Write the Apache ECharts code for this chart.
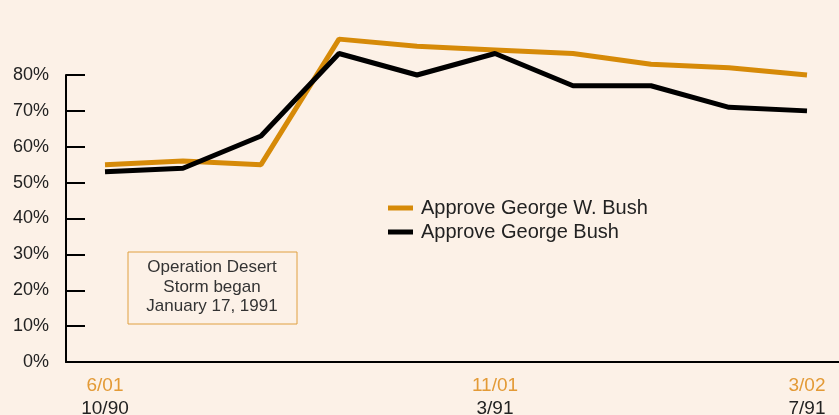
<!DOCTYPE html>
<html><head><meta charset="utf-8">
<script src="https://cdn.jsdelivr.net/npm/echarts@6/dist/echarts.min.js"></script>
<style>html,body{margin:0;padding:0;background:#fcf1e7;}#c{width:839px;height:415px;}</style>
</head><body><div id="c"></div>
<script>
const categories = ['0','1','2','3','4','5','6','7','8','9'];
const topLabels = ['6/01','','','','','11/01','','','','3/02'];
const bottomLabels = ['10/90','','','','','3/91','','','','7/91'];
const approveGWBush = [55, 56, 55, 90, 88, 87, 86, 83, 82, 80];
const approveGHWBush = [53, 54, 63, 86, 80, 86, 77, 77, 71, 70];
const yTicks = [0,10,20,30,40,50,60,70,80];

const FONT = '"Liberation Sans", Arial, sans-serif';
const chart = echarts.init(document.getElementById('c'));
chart.setOption({
  backgroundColor: '#fcf1e7',
  animation: false,
  grid: {left: 66, right: -7, top: 75, bottom: 53, containLabel: false, outerBoundsMode: 'none'},
  legend: {
    orient: 'vertical', left: 383, top: 193, itemGap: 4,
    itemWidth: 25, itemHeight: 5, icon: 'rect',
    textStyle: {fontFamily: FONT, fontSize: 20, color: '#222', padding: [0,0,0,3]},
    data: ['Approve George W. Bush', 'Approve George Bush']
  },
  xAxis: {
    type: 'category', data: categories, boundaryGap: true,
    axisLine: {lineStyle: {color: '#000', width: 2}},
    axisTick: {inside: true, length: 6, interval: 0, lineStyle: {color: '#000', width: 2}},
    axisLabel: {
      interval: 0, margin: 12,
      formatter: (v, i) => topLabels[i] ? '{a|' + topLabels[i] + '}\n{b|' + bottomLabels[i] + '}' : '',
      rich: {
        a: {fontFamily: FONT, fontSize: 19, color: '#e39a36', lineHeight: 23},
        b: {fontFamily: FONT, fontSize: 19, color: '#222', lineHeight: 23}
      }
    }
  },
  yAxis: {
    type: 'value', min: 0, max: 80, interval: 10,
    splitLine: {show: false},
    axisLine: {show: true, lineStyle: {color: '#000', width: 2}},
    axisTick: {show: true, inside: true, length: 19, lineStyle: {color: '#000', width: 2}},
    axisLabel: {fontFamily: FONT, fontSize: 18, color: '#222', margin: 17,
      formatter: v => yTicks.includes(v) ? v + '%' : ''}
  },
  graphic: [
    {type: 'rect', x: 128, y: 252, shape: {width: 169, height: 72},
     style: {fill: 'none', stroke: '#e0a040', lineWidth: 1}},
    {type: 'text', x: 212, y: 258,
     style: {text: 'Operation Desert\nStorm began\nJanuary 17, 1991',
       align: 'center', textAlign: 'center', fontFamily: FONT, fontSize: 17, lineHeight: 19.5, fill: '#333'}}
  ],
  series: [
    {name: 'Approve George W. Bush', type: 'line', data: approveGWBush, clip: false,
     symbol: 'none', lineStyle: {color: '#d68a08', width: 5}, itemStyle: {color: '#d68a08'}},
    {name: 'Approve George Bush', type: 'line', data: approveGHWBush, clip: false,
     symbol: 'none', lineStyle: {color: '#000', width: 5}, itemStyle: {color: '#000'}}
  ]
});
</script></body></html>
